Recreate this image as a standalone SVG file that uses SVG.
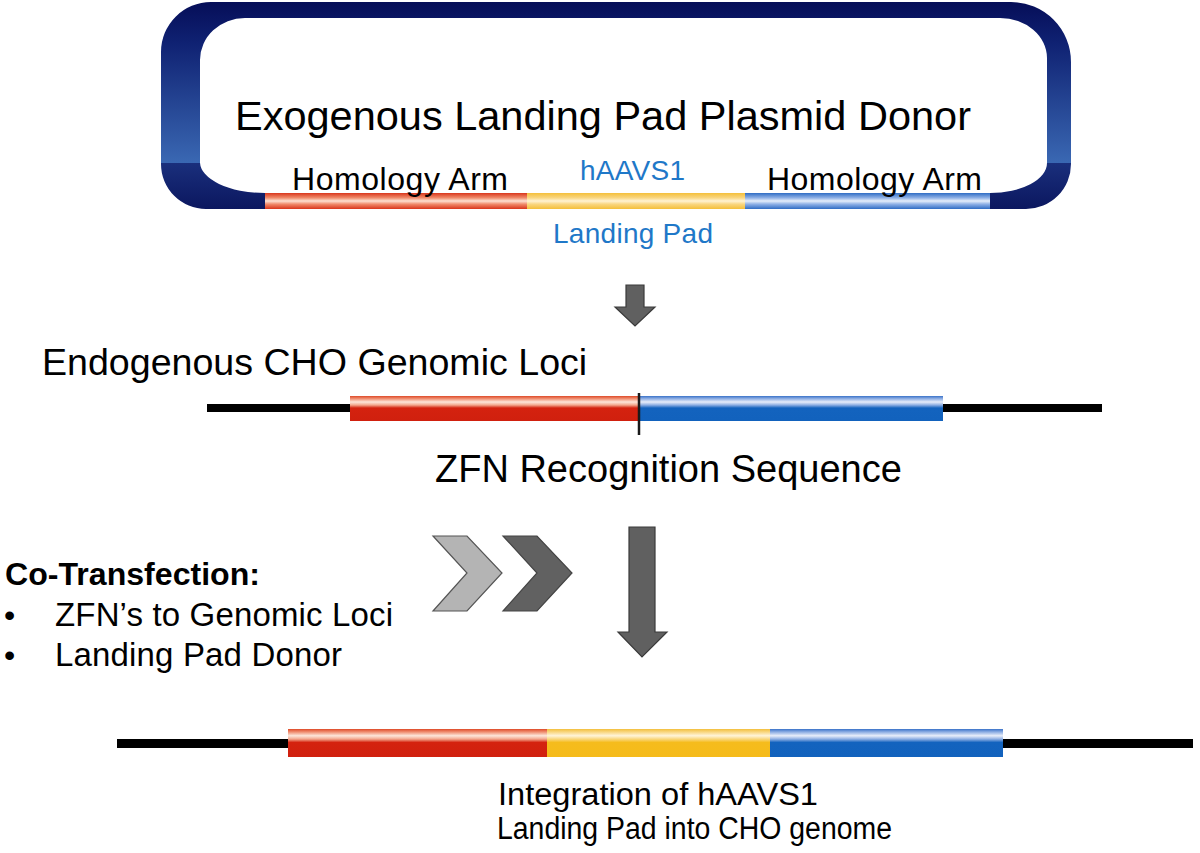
<svg xmlns="http://www.w3.org/2000/svg" width="1200" height="853" viewBox="0 0 1200 853">
  <defs>
    <style>
      text { font-family: "Liberation Sans", Arial, sans-serif; fill: #000; }
      .blue { fill: #1f78c8; }
      .arrow { fill: #606060; stroke: #3a3a3a; stroke-width: 1.2; }
      .chev-light { fill: #b4b4b4; stroke: #555; stroke-width: 1.2; }
      .chev-dark { fill: #616161; stroke: #444; stroke-width: 1.2; }
      .dna { fill: #000; }
    </style>
    <linearGradient id="gFrameTop" gradientUnits="userSpaceOnUse" x1="0" y1="2" x2="0" y2="163">
      <stop offset="0" stop-color="#060e58"/>
      <stop offset="0.25" stop-color="#0f2172"/>
      <stop offset="1" stop-color="#3a68b3"/>
    </linearGradient>
    <linearGradient id="gFrameBot" gradientUnits="userSpaceOnUse" x1="0" y1="163" x2="0" y2="209">
      <stop offset="0" stop-color="#1a2f7c"/>
      <stop offset="1" stop-color="#0b175f"/>
    </linearGradient>
    <!-- symmetric bars (plasmid) -->
    <linearGradient id="pRed" x1="0" y1="0" x2="0" y2="1">
      <stop offset="0" stop-color="#d9361c"/>
      <stop offset="0.3" stop-color="#f08a6a"/>
      <stop offset="0.5" stop-color="#fde2d4"/>
      <stop offset="0.7" stop-color="#f08a6a"/>
      <stop offset="1" stop-color="#d9361c"/>
    </linearGradient>
    <linearGradient id="pYel" x1="0" y1="0" x2="0" y2="1">
      <stop offset="0" stop-color="#f4bf3a"/>
      <stop offset="0.3" stop-color="#f9d680"/>
      <stop offset="0.5" stop-color="#fff3d4"/>
      <stop offset="0.7" stop-color="#f9d680"/>
      <stop offset="1" stop-color="#f4bf3a"/>
    </linearGradient>
    <linearGradient id="pBlu" x1="0" y1="0" x2="0" y2="1">
      <stop offset="0" stop-color="#2f6cc4"/>
      <stop offset="0.3" stop-color="#8eb0e6"/>
      <stop offset="0.5" stop-color="#e6eefa"/>
      <stop offset="0.7" stop-color="#8eb0e6"/>
      <stop offset="1" stop-color="#2f6cc4"/>
    </linearGradient>
    <!-- shaded bars (genome) -->
    <linearGradient id="gRed" x1="0" y1="0" x2="0" y2="1">
      <stop offset="0" stop-color="#de4a28"/>
      <stop offset="0.1" stop-color="#ef8a6c"/>
      <stop offset="0.24" stop-color="#fde6da"/>
      <stop offset="0.36" stop-color="#f3a88e"/>
      <stop offset="0.48" stop-color="#d4220f"/>
      <stop offset="1" stop-color="#d0200e"/>
    </linearGradient>
    <linearGradient id="gYel" x1="0" y1="0" x2="0" y2="1">
      <stop offset="0" stop-color="#f3bf3c"/>
      <stop offset="0.1" stop-color="#f8d57c"/>
      <stop offset="0.24" stop-color="#fff4d8"/>
      <stop offset="0.36" stop-color="#f9d77e"/>
      <stop offset="0.48" stop-color="#f5bc1c"/>
      <stop offset="1" stop-color="#f5bb1a"/>
    </linearGradient>
    <linearGradient id="gBlu" x1="0" y1="0" x2="0" y2="1">
      <stop offset="0" stop-color="#3a72c8"/>
      <stop offset="0.1" stop-color="#88aae2"/>
      <stop offset="0.24" stop-color="#e8eefa"/>
      <stop offset="0.36" stop-color="#90b0e4"/>
      <stop offset="0.48" stop-color="#1363be"/>
      <stop offset="1" stop-color="#1262bd"/>
    </linearGradient>
    <path id="frameShape" fill-rule="evenodd" d="M 211,2 H 1011 A 60 60 0 0 1 1071 62 V 164 A 45 45 0 0 1 1026 209 H 206 A 45 45 0 0 1 161 164 V 52 A 50 50 0 0 1 211 2 Z M 245,18 A 45 42 0 0 0 200 60 V 162 A 65 31 0 0 0 265 193 H 990 A 57 30 0 0 0 1047 163 V 58 A 47 40 0 0 0 1000 18 Z"/>
    <clipPath id="clipTop"><rect x="0" y="0" width="1200" height="163"/></clipPath>
    <clipPath id="clipBot"><rect x="0" y="163" width="1200" height="60"/></clipPath>
  </defs>

  <rect x="0" y="0" width="1200" height="853" fill="#ffffff"/>

  <!-- Plasmid donor -->
  <g id="plasmid-donor">
    <use href="#frameShape" fill="url(#gFrameTop)" clip-path="url(#clipTop)"/>
    <use href="#frameShape" fill="url(#gFrameBot)" clip-path="url(#clipBot)"/>
    <rect x="265" y="193" width="262" height="16" fill="url(#pRed)"/>
    <rect x="527" y="193" width="218" height="16" fill="url(#pYel)"/>
    <rect x="745" y="193" width="245" height="16" fill="url(#pBlu)"/>
    <text x="235" y="130" font-size="41.5">Exogenous Landing Pad Plasmid Donor</text>
    <text x="292" y="190" font-size="32" textLength="216" lengthAdjust="spacing">Homology Arm</text>
    <text x="767" y="190" font-size="32" textLength="215" lengthAdjust="spacing">Homology Arm</text>
    <text class="blue" x="580" y="180" font-size="28" textLength="105" lengthAdjust="spacing">hAAVS1</text>
    <text class="blue" x="553" y="243" font-size="28" textLength="160" lengthAdjust="spacing">Landing Pad</text>
  </g>

  <!-- Endogenous genomic loci -->
  <g id="genomic-loci">
    <text x="42" y="375" font-size="37.6">Endogenous CHO Genomic Loci</text>
    <rect class="dna" x="207" y="404" width="895" height="8"/>
    <rect x="350" y="396" width="289" height="25" fill="url(#gRed)"/>
    <rect x="639" y="396" width="304" height="25" fill="url(#gBlu)"/>
    <line x1="639" y1="393" x2="639" y2="435" stroke="#1a1a1a" stroke-width="2.5"/>
    <text x="435" y="482" font-size="38">ZFN Recognition Sequence</text>
  </g>

  <!-- Co-transfection -->
  <g id="co-transfection">
    <text x="5" y="585" font-size="32" font-weight="bold" textLength="255" lengthAdjust="spacingAndGlyphs">Co-Transfection:</text>
    <text x="4" y="626" font-size="32">•</text>
    <text x="55" y="626" font-size="33" textLength="338" lengthAdjust="spacing">ZFN’s to Genomic Loci</text>
    <text x="4" y="666" font-size="32">•</text>
    <text x="55" y="666" font-size="33" textLength="287" lengthAdjust="spacing">Landing Pad Donor</text>
    <polygon class="chev-light" points="433,536 467,536 502,573 467,611 433,611 467,573"/>
    <polygon class="chev-dark" points="503,536 537,536 572,573 537,611 503,611 537,573"/>
  </g>

  <!-- Integrated genome -->
  <g id="integration">
    <rect class="dna" x="117" y="739" width="1076" height="9"/>
    <rect x="288" y="729" width="259" height="28" fill="url(#gRed)"/>
    <rect x="547" y="729" width="223" height="28" fill="url(#gYel)"/>
    <rect x="770" y="729" width="233" height="28" fill="url(#gBlu)"/>
    <text x="498" y="805" font-size="31" textLength="320" lengthAdjust="spacingAndGlyphs">Integration  of hAAVS1</text>
    <text x="497" y="839" font-size="31" textLength="395" lengthAdjust="spacingAndGlyphs">Landing  Pad into CHO genome</text>
  </g>

  <!-- Connectors -->
  <g id="connectors">
    <polygon class="arrow" points="626,285 644,285 644,307 655,307 635,326 615,307 626,307"/>
    <polygon class="arrow" points="629,527 655,527 655,632 667,632 642,657 618,632 629,632"/>
  </g>
</svg>
